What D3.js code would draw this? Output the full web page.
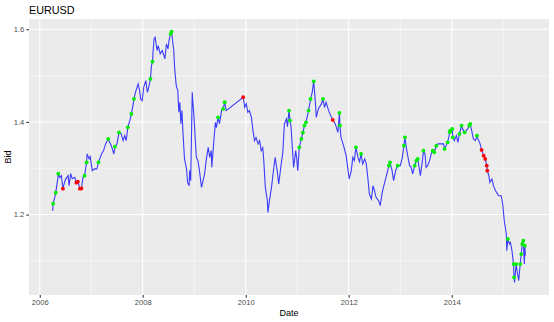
<!DOCTYPE html>
<html>
<head>
<meta charset="utf-8">
<script src="https://cdn.jsdelivr.net/npm/d3@7"></script>
<style>
  body { margin: 0; background: #fff; }
  text { font-family: "Liberation Sans", Arial, sans-serif; }
</style>
</head>
<body>
<svg id="chart" width="554" height="322"></svg>
<script>
// decimal years
const dates = [
  2006.25,2006.26,2006.29,2006.31,2006.33,2006.35,2006.36,2006.39,2006.42,2006.45,
  2006.49,2006.51,2006.55,2006.57,2006.60,2006.63,2006.68,2006.71,2006.74,2006.78,
  2006.81,2006.84,2006.87,2006.91,2006.92,2006.96,2006.98,2007.02,2007.07,2007.11,
  2007.14,2007.20,2007.24,2007.28,2007.33,2007.36,2007.39,2007.44,2007.46,2007.50,
  2007.54,2007.58,2007.62,2007.65,2007.68,2007.71,2007.75,2007.78,2007.81,2007.83,
  2007.86,2007.91,2007.94,2007.96,2007.99,2008.02,2008.06,2008.09,2008.12,2008.15,
  2008.17,2008.19,2008.20,2008.22,2008.24,2008.28,2008.30,2008.34,2008.38,2008.43,
  2008.46,2008.49,2008.51,2008.54,2008.56,2008.59,2008.60,2008.62,2008.65,2008.68,
  2008.70,2008.72,2008.74,2008.76,2008.78,2008.81,2008.85,2008.87,2008.90,2008.91,
  2008.93,2008.96,2008.97,2008.99,2009.02,2009.04,2009.07,2009.10,2009.14,2009.17,
  2009.20,2009.23,2009.27,2009.30,2009.33,2009.34,2009.38,2009.41,2009.43,2009.46,
  2009.49,2009.53,2009.56,2009.59,2009.62,2009.95,2009.98,2010.01,2010.04,2010.07,
  2010.11,2010.14,2010.17,2010.20,2010.24,2010.27,2010.30,2010.33,2010.35,2010.38,
  2010.42,2010.43,2010.46,2010.50,2010.53,2010.57,2010.61,2010.64,2010.68,2010.72,
  2010.75,2010.79,2010.81,2010.84,2010.86,2010.88,2010.90,2010.93,2010.97,2010.99,
  2011.01,2011.04,2011.08,2011.11,2011.14,2011.17,2011.22,2011.26,2011.29,2011.32,
  2011.35,2011.37,2011.41,2011.47,2011.50,2011.53,2011.56,2011.61,2011.65,2011.69,
  2011.74,2011.79,2011.82,2011.83,2011.85,2011.90,2011.95,2011.98,2012.01,2012.05,
  2012.08,2012.11,2012.14,2012.18,2012.21,2012.24,2012.27,2012.31,2012.34,2012.37,
  2012.40,2012.44,2012.47,2012.50,2012.53,2012.58,2012.61,2012.65,2012.69,2012.74,
  2012.78,2012.80,2012.84,2012.87,2012.91,2012.95,2013.00,2013.04,2013.07,2013.09,
  2013.12,2013.15,2013.18,2013.21,2013.24,2013.28,2013.31,2013.34,2013.37,2013.39,
  2013.43,2013.45,2013.48,2013.50,2013.53,2013.57,2013.60,2013.63,2013.66,2013.70,
  2013.73,2013.79,2013.84,2013.86,2013.89,2013.92,2013.96,2013.97,2014.01,2014.02,
  2014.05,2014.09,2014.12,2014.15,2014.19,2014.21,2014.25,2014.28,2014.31,2014.34,
  2014.36,2014.40,2014.42,2014.46,2014.49,2014.51,2014.55,2014.58,2014.62,2014.65,
  2014.68,2014.69,2014.72,2014.74,2014.78,2014.81,2014.85,2014.87,2014.91,2014.96,
  2014.99,2015.02,2015.06,2015.07,2015.09,2015.12,2015.14,2015.17,2015.20,2015.21,
  2015.22,2015.25,2015.27,2015.30,2015.33,2015.35,2015.37,2015.39,2015.41,2015.42,
  2015.43
];

const bid = [
  1.2083,1.2234,1.2364,1.2472,1.2623,1.2775,1.2883,1.2796,1.2840,1.2559,
  1.2731,1.2775,1.2840,1.2623,1.2883,1.2775,1.2803,1.2688,1.2710,1.2559,
  1.2565,1.2803,1.2840,1.3127,1.3308,1.3200,1.3250,1.2948,1.2991,1.2984,
  1.3127,1.3308,1.3380,1.3525,1.3633,1.3553,1.3488,1.3308,1.3466,1.3525,
  1.3775,1.3747,1.3596,1.3704,1.3596,1.3883,1.4028,1.4173,1.4352,1.4497,
  1.4640,1.4821,1.4676,1.4497,1.4460,1.4748,1.4893,1.4640,1.4763,1.4929,
  1.5217,1.5303,1.5504,1.5794,1.5828,1.5541,1.5649,1.5470,1.5541,1.5361,
  1.5686,1.5578,1.5757,1.5902,1.5951,1.5649,1.5578,1.5145,1.4784,1.4676,
  1.4207,1.4424,1.3963,1.4244,1.3775,1.3200,1.2984,1.2695,1.2623,1.2948,
  1.2731,1.4640,1.4460,1.4173,1.3596,1.3235,1.3164,1.2948,1.2587,1.2731,
  1.2876,1.3164,1.3451,1.3235,1.3380,1.3019,1.3596,1.3991,1.3877,1.4099,
  1.3963,1.4244,1.4281,1.4424,1.4244,1.4532,1.4316,1.4395,1.4207,1.4244,
  1.4099,1.3812,1.3596,1.3661,1.3525,1.3596,1.3380,1.3445,1.3164,1.2587,
  1.2299,1.2046,1.2299,1.2587,1.2876,1.3235,1.2948,1.2660,1.3019,1.3343,
  1.3957,1.4065,1.3898,1.4244,1.4028,1.3898,1.3525,1.3019,1.3380,1.3207,
  1.2948,1.3451,1.3633,1.3769,1.3920,1.3991,1.4244,1.4497,1.4633,1.4877,
  1.4460,1.4099,1.4287,1.4389,1.4497,1.4316,1.4424,1.4244,1.4136,1.4043,
  1.3957,1.3775,1.4194,1.3920,1.3667,1.3488,1.3272,1.3019,1.2768,1.2948,
  1.3235,1.3164,1.3451,1.3235,1.3142,1.3308,1.3092,1.3200,1.3099,1.2803,
  1.2444,1.2336,1.2623,1.2515,1.2371,1.2299,1.2191,1.2479,1.2660,1.2876,
  1.3056,1.3127,1.2948,1.2731,1.2948,1.3056,1.3056,1.3235,1.3488,1.3667,
  1.3417,1.3235,1.3056,1.3019,1.2876,1.3056,1.3164,1.3200,1.2984,1.2840,
  1.3164,1.3380,1.3315,1.3019,1.3056,1.3164,1.3315,1.3380,1.3343,1.3488,
  1.3525,1.3525,1.3525,1.3417,1.3488,1.3559,1.3775,1.3812,1.3849,1.3667,
  1.3596,1.3704,1.3559,1.3741,1.3920,1.3849,1.3775,1.3812,1.3849,1.3920,
  1.3957,1.3741,1.3633,1.3596,1.3704,1.3633,1.3525,1.3395,1.3272,1.3200,
  1.3056,1.2948,1.2840,1.2695,1.2768,1.2623,1.2515,1.2479,1.2407,1.2407,
  1.2228,1.1867,1.1580,1.1219,1.1472,1.1364,1.1398,1.1219,1.0931,1.0642,
  1.0534,1.0931,1.0787,1.0570,1.0931,1.1147,1.1364,1.1435,1.0931,1.1327,
  1.1111
];

// g = green marker, r = red marker, . = none
const signal = [
  ".g.g..g..r", ".......rrr", "r.gg......", "g...g...g.", "g....g.g.g",
  ".........g", ".g........", "...gg.....", "..........", "..........",
  ".........g", "..gg.r....", "..........", "..........", "...gg.....",
  ".ggggggg.g", "....g....r", "..gg......", "..g..g....", "..........",
  "gg...g..gg", ".....ggg..", ".g.....ggg", "...g.ggggg", "...gg.g..g",
  "g...g..rrr", "rr........", "....g...gg", ".g..gggg.g."
].join("");

const yTicks = [1.2, 1.4, 1.6];
const yMinor = [1.1, 1.3, 1.5];
const xTickYears = [2006, 2008, 2010, 2012, 2014];
const xMinorYears = [2007, 2009, 2011, 2013, 2015];

function toDate(t) {
  let yr = Math.floor(t);
  let start = Date.UTC(yr, 0, 1), end = Date.UTC(yr + 1, 0, 1);
  return new Date(start + (t - yr) * (end - start));
}

let data = dates.map(function(d, i) {
  return { date: toDate(d), bid: bid[i], sig: signal[i] };
});

const panel = { left: 29, right: 549, top: 19, bottom: 295 };

let svg = d3.select('#chart');

// ggplot style 5% expansion
let xExt = d3.extent(data, function(d) { return +d.date; });
let xPad = (xExt[1] - xExt[0]) * 0.05;
let x = d3.scaleUtc()
  .domain([new Date(xExt[0] - xPad), new Date(xExt[1] + xPad)])
  .range([panel.left, panel.right]);

let yExt = d3.extent(bid);
let yPad = (yExt[1] - yExt[0]) * 0.05;
let y = d3.scaleLinear()
  .domain([yExt[0] - yPad, yExt[1] + yPad])
  .range([panel.bottom, panel.top]);

svg.append('rect')
  .attr('x', panel.left)
  .attr('y', panel.top)
  .attr('width', panel.right - panel.left)
  .attr('height', panel.bottom - panel.top)
  .attr('fill', '#ebebeb');

let grid = svg.append('g');

grid.selectAll('line.ymin')
  .data(yMinor)
  .enter().append('line')
  .attr('x1', panel.left).attr('x2', panel.right)
  .attr('y1', function(d) { return y(d); })
  .attr('y2', function(d) { return y(d); })
  .attr('stroke', '#fff').attr('stroke-width', 0.53);

grid.selectAll('line.xmin')
  .data(xMinorYears)
  .enter().append('line')
  .attr('y1', panel.top).attr('y2', panel.bottom)
  .attr('x1', function(d) { return x(toDate(d)); })
  .attr('x2', function(d) { return x(toDate(d)); })
  .attr('stroke', '#fff').attr('stroke-width', 0.53);

grid.selectAll('line.ymaj')
  .data(yTicks)
  .enter().append('line')
  .attr('x1', panel.left).attr('x2', panel.right)
  .attr('y1', function(d) { return y(d); })
  .attr('y2', function(d) { return y(d); })
  .attr('stroke', '#fff').attr('stroke-width', 1.07);

grid.selectAll('line.xmaj')
  .data(xTickYears)
  .enter().append('line')
  .attr('y1', panel.top).attr('y2', panel.bottom)
  .attr('x1', function(d) { return x(toDate(d)); })
  .attr('x2', function(d) { return x(toDate(d)); })
  .attr('stroke', '#fff').attr('stroke-width', 1.07);

// series
let line = d3.line()
  .x(function(d) { return x(d.date); })
  .y(function(d) { return y(d.bid); });

svg.append('path')
  .attr('d', line(data))
  .attr('fill', 'none')
  .attr('stroke', 'blue')
  .attr('stroke-opacity', 0.75)
  .attr('stroke-width', 1.1);

let colours = { g: '#00ee00', r: '#ff0000' };

svg.append('g')
  .selectAll('circle')
  .data(data.filter(function(d) { return d.sig !== '.'; }))
  .enter().append('circle')
  .attr('cx', function(d) { return x(d.date); })
  .attr('cy', function(d) { return y(d.bid); })
  .attr('r', 1.9)
  .attr('fill', function(d) { return colours[d.sig]; });

// axes
let xAxis = d3.axisBottom(x)
  .tickValues(xTickYears.map(toDate))
  .tickFormat(d3.utcFormat('%Y'))
  .tickSize(2.75)
  .tickPadding(2);

let yAxis = d3.axisLeft(y)
  .tickValues(yTicks)
  .tickFormat(d3.format('.1f'))
  .tickSize(2.75)
  .tickPadding(2);

let gx = svg.append('g')
  .attr('transform', 'translate(0,' + panel.bottom + ')')
  .call(xAxis);
let gy = svg.append('g')
  .attr('transform', 'translate(' + panel.left + ',0)')
  .call(yAxis);

[gx, gy].forEach(function(g) {
  g.select('.domain').remove();
  g.selectAll('.tick line').attr('stroke', '#333').attr('stroke-width', 1.07);
  g.selectAll('.tick text')
    .attr('fill', '#4d4d4d')
    .style('font-size', '7.6px')
    .style('font-family', '"Liberation Sans", Arial, sans-serif');
});

svg.append('text')
  .attr('x', panel.left)
  .attr('y', 13.5)
  .style('font-size', '10.8px')
  .text('EURUSD');

svg.append('text')
  .attr('x', (panel.left + panel.right) / 2)
  .attr('y', 316)
  .attr('text-anchor', 'middle')
  .style('font-size', '9px')
  .text('Date');

svg.append('text')
  .attr('transform', 'translate(11,' + (panel.top + panel.bottom) / 2 + ') rotate(-90)')
  .attr('text-anchor', 'middle')
  .style('font-size', '9px')
  .text('Bid');
</script>
</body>
</html>
